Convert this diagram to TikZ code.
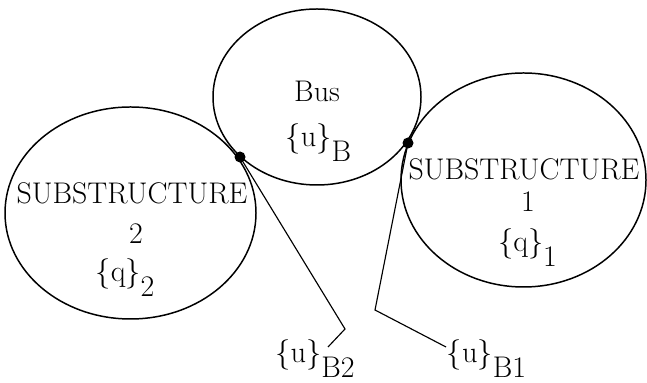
\documentclass[tikz,border=0pt]{standalone}
\usepackage{amsmath}
\usepackage{tikz}
\usetikzlibrary{shapes.geometric,positioning}
\newcommand{\braceset}[2]{$\{\mathrm{#1}\}$\raisebox{-0.5em}{#2}}

\begin{document}
\begin{tikzpicture}[
  every node/.style={font=\fontsize{17}{20}\selectfont},
  blob/.style={ellipse,draw=black,line width=0.85pt,inner sep=0pt},
  jn/.style={circle,fill=black,inner sep=0pt,minimum size=2.2mm},
  lead/.style={line width=0.65pt},
  lbl/.style={anchor=base,inner sep=0pt},
]
  \useasboundingbox (0,0) rectangle (12.94,7.66);

  \node[blob,minimum width=5.02cm,minimum height=4.24cm] (sub2) at (2.61,3.40) {};
  \node[blob,minimum width=4.16cm,minimum height=3.52cm] (bus) at (6.34,5.72) {};
  \node[blob,minimum width=4.90cm,minimum height=4.28cm] (sub1) at (10.47,4.06) {};

  \node[lbl] (busname) at (6.34,5.63) {Bus};
  \node[lbl] (uB) at (6.37,4.72) {\braceset{u}{B}};

  \node[lbl] (sub2name) at (2.64,3.59) {SUBSTRUCTURE};
  \node[lbl] (sub2num) at (2.72,2.79) {2};
  \node[lbl] (q2) at (2.5,2.02) {\braceset{q}{2}};

  \node[lbl] (sub1name) at (10.48,4.06) {SUBSTRUCTURE};
  \node[lbl] (sub1num) at (10.56,3.43) {1};
  \node[lbl] (q1) at (10.55,2.62) {\braceset{q}{1}};

  \node[jn] (jB2) at (4.80,4.52) {};
  \node[jn] (jB1) at (8.16,4.80) {};

  \node[lbl] (uB2) at (6.30,0.40) {\braceset{u}{B2}};
  \node[lbl] (uB1) at (9.73,0.40) {\braceset{u}{B1}};

  \coordinate (kB2) at (6.90,1.08);
  \coordinate (eB2) at (6.56,0.72);
  \coordinate (kB1) at (7.50,1.46);
  \coordinate (eB1) at (8.92,0.72);

  \draw[lead] (jB2.center) -- (kB2) -- (eB2);
  \draw[lead] (jB1.center) -- (kB1) -- (eB1);
\end{tikzpicture}
\end{document}
